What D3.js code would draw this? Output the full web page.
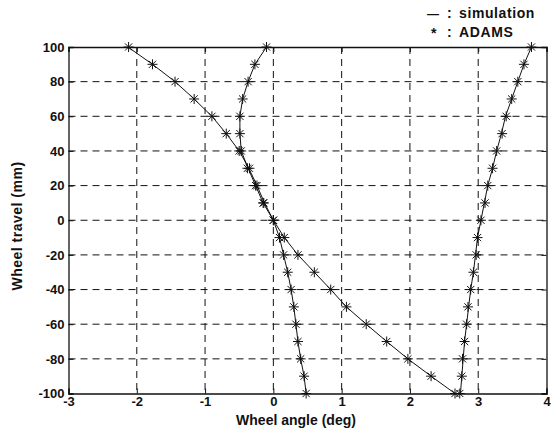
<!DOCTYPE html>
<html>
<head>
<meta charset="utf-8">
<script src="https://cdn.jsdelivr.net/npm/d3@7"></script>
<style>
  body { margin: 0; background: #fff; }
  text { font-family: "Liberation Sans", Arial, sans-serif; font-weight: bold; fill: #111; }
</style>
</head>
<body>
<svg id="chart" width="558" height="435"></svg>
<script>

// wheel travel (mm), shared by all curves
const travel = [100, 90, 80, 70, 60, 50, 40, 30, 20, 10, 0, -10, -20, -30, -40, -50, -60, -70, -80, -90, -100]

// wheel angle (deg) per curve, simulation
const simToe = [-2.13, -1.77, -1.44, -1.16, -0.90, -0.69, -0.50, -0.36, -0.24, -0.13, 0, 0.16, 0.36, 0.60, 0.84, 1.07, 1.36, 1.66, 1.97, 2.31, 2.66]
const simCamber = [-0.10, -0.27, -0.37, -0.45, -0.49, -0.49, -0.47, -0.37, -0.26, -0.15, 0, 0.09, 0.15, 0.21, 0.26, 0.30, 0.33, 0.36, 0.40, 0.45, 0.48]
const simCaster = [3.78, 3.67, 3.58, 3.49, 3.40, 3.34, 3.27, 3.21, 3.14, 3.09, 3.04, 2.99, 2.96, 2.93, 2.89, 2.86, 2.83, 2.80, 2.78, 2.76, 2.74]

// ADAMS points
const adamsToe = [-2.12, -1.77, -1.44, -1.16, -0.90, -0.69, -0.50, -0.35, -0.24, -0.14, 0, 0.16, 0.36, 0.60, 0.84, 1.07, 1.36, 1.66, 1.97, 2.31, 2.66]
const adamsCamber = [-0.10, -0.27, -0.37, -0.45, -0.49, -0.49, -0.47, -0.38, -0.26, -0.15, 0, 0.09, 0.15, 0.21, 0.26, 0.30, 0.33, 0.36, 0.40, 0.45, 0.48]
const adamsCaster = [3.78, 3.67, 3.58, 3.49, 3.41, 3.35, 3.27, 3.21, 3.14, 3.10, 3.04, 2.99, 2.97, 2.93, 2.89, 2.85, 2.83, 2.80, 2.77, 2.76, 2.73]

const xTicks = [-3, -2, -1, 0, 1, 2, 3, 4]
const yTicks = [-100, -80, -60, -40, -20, 0, 20, 40, 60, 80, 100]

const svg = d3.select('#chart')
const pLeft = 68.5, pRight = 546.5, pTop = 47, pBottom = 393.5

const x = d3.scaleLinear().domain([-3, 4]).range([pLeft, pRight])
const y = d3.scaleLinear().domain([-100, 100]).range([pBottom, pTop])

// grid
const grid = svg.append('g').attr('stroke', '#111').attr('stroke-width', 1).attr('stroke-dasharray', '7,5')
grid.selectAll('.gx').data(xTicks.slice(1, -1)).enter().append('line')
    .attr('x1', d => x(d)).attr('x2', d => x(d))
    .attr('y1', pTop).attr('y2', pBottom)
grid.selectAll('.gy').data(yTicks.slice(1, -1)).enter().append('line')
    .attr('y1', d => y(d)).attr('y2', d => y(d))
    .attr('x1', pLeft).attr('x2', pRight)

// axes
const fmt = d => String(d)
svg.append('g').attr('transform', `translate(0,${pBottom})`)
    .call(d3.axisBottom(x).tickValues(xTicks).tickSize(-5).tickPadding(3).tickFormat(fmt))
svg.append('g').attr('transform', `translate(0,${pTop})`)
    .call(d3.axisTop(x).tickValues(xTicks).tickSize(-5).tickFormat(''))
svg.append('g').attr('transform', `translate(${pLeft},0)`)
    .call(d3.axisLeft(y).tickValues(yTicks).tickSize(-5).tickPadding(4).tickFormat(fmt))
svg.append('g').attr('transform', `translate(${pRight},0)`)
    .call(d3.axisRight(y).tickValues(yTicks).tickSize(-5).tickFormat(''))

svg.selectAll('.domain').attr('stroke', '#111').attr('stroke-width', 1.3)
svg.selectAll('.tick line').attr('stroke', '#111')
svg.selectAll('.tick text').attr('font-size', 13).attr('font-family', '"Liberation Sans", Arial, sans-serif')
    .attr('font-weight', 'bold').attr('fill', '#111')

// curves
const curves = [
    { sim: simToe, adams: adamsToe },
    { sim: simCamber, adams: adamsCamber },
    { sim: simCaster, adams: adamsCaster }
]

const line = d3.line().x(d => x(d[0])).y(d => y(d[1]))
const star = 'M-5,0H5M0,-5V5M-3.6,-3.6L3.6,3.6M-3.6,3.6L3.6,-3.6'

curves.forEach(c => {
    svg.append('path')
        .datum(c.sim.map((v, i) => [v, travel[i]]))
        .attr('fill', 'none').attr('stroke', '#111').attr('stroke-width', 1)
        .attr('d', line)

    svg.append('g').selectAll('path')
        .data(c.adams.map((v, i) => [v, travel[i]]))
        .enter().append('path')
        .attr('transform', d => `translate(${x(d[0])},${y(d[1])})`)
        .attr('d', star)
        .attr('fill', 'none').attr('stroke', '#111').attr('stroke-width', 1)
})

// labels
svg.append('text').attr('x', 296).attr('y', 425)
    .attr('text-anchor', 'middle').attr('font-size', 14).text('Wheel angle (deg)')
svg.append('text').attr('transform', `translate(22,226) rotate(-90)`)
    .attr('text-anchor', 'middle').attr('font-size', 14).attr('letter-spacing', 0.5).text('Wheel travel (mm)')

// legend
svg.append('text').attr('x', 427).attr('y', 18).attr('font-size', 12).text('—')
svg.append('text').attr('x', 447).attr('y', 18).attr('font-size', 14).text(':')
svg.append('text').attr('x', 459).attr('y', 18).attr('font-size', 14).attr('letter-spacing', 0.6).text('simulation')
svg.append('text').attr('x', 431).attr('y', 38).attr('font-size', 14).text('*')
svg.append('text').attr('x', 447).attr('y', 37).attr('font-size', 14).text(':')
svg.append('text').attr('x', 459).attr('y', 37).attr('font-size', 14).attr('letter-spacing', 0.6).text('ADAMS')

</script>
</body>
</html>
